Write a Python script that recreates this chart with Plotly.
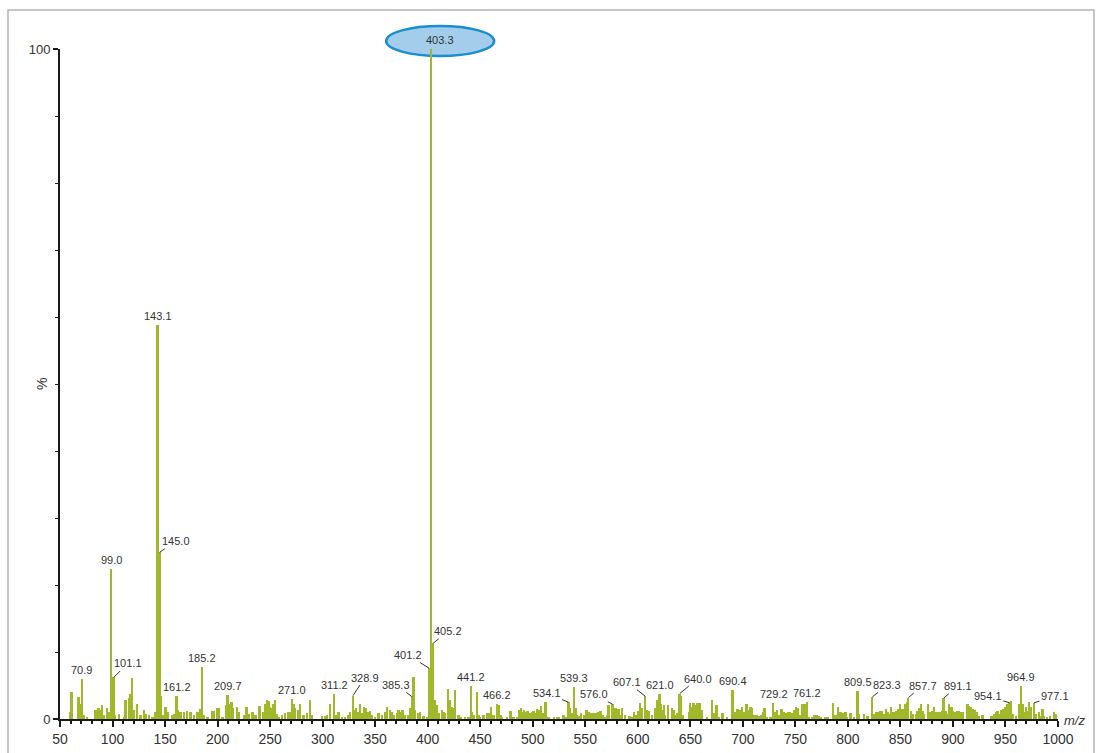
import plotly.graph_objects as go

# ---------------- data (m/z, relative intensity %) ----------------
mz = [
    60.3, 61.0, 68.0, 69.5, 70.9, 73.0, 76.2, 84.1, 86.7, 88.3, 90.5, 92.1, 95.2, 96.8,
    99.0, 101.1, 102.5, 106.3, 111.1, 112.7, 115.9, 117.5, 119.0, 120.6, 123.8, 127.0,
    130.2, 131.7, 135.0, 138.1, 140.6, 143.1, 145.0, 146.4, 148.6, 150.8, 152.4, 157.1,
    158.7, 161.2, 162.8, 165.1, 168.3, 171.4, 174.6, 177.8, 181.0, 183.5, 185.2, 187.3,
    190.5, 195.2, 196.8, 200.0, 201.6, 204.8, 208.0, 209.7, 211.7, 213.3, 215.2, 219.0,
    220.6, 225.4, 227.6, 230.2, 233.3, 236.5, 240.0, 244.0, 245.5, 247.1, 248.7, 250.3,
    251.9, 253.5, 255.1, 256.6, 258.9, 261.4, 264.6, 267.8, 269.3, 271.0, 272.5, 274.1,
    277.3, 278.9, 282.0, 285.2, 288.4, 290.0, 299.5, 302.7, 304.3, 307.4, 311.2, 313.0,
    315.4, 318.6, 321.7, 324.9, 326.5, 328.9, 330.3, 332.2, 333.8, 336.0, 337.6, 339.8,
    341.7, 344.0, 345.5, 347.1, 350.3, 353.5, 356.6, 359.8, 361.4, 364.6, 366.2, 367.8,
    370.9, 372.5, 374.7, 376.3, 378.9, 382.0, 384.0, 385.3, 386.9, 388.4, 391.6, 393.2,
    396.3, 399.5, 401.2, 403.3, 405.2, 406.8, 409.0, 410.6, 413.8, 415.4, 417.0, 419.5,
    421.2, 423.3, 424.6, 426.0, 429.7, 431.3, 436.0, 439.2, 441.2, 442.6, 444.0, 447.1,
    448.7, 450.3, 453.5, 456.7, 458.3, 460.5, 463.0, 466.2, 467.8, 469.4, 471.0, 475.7,
    478.9, 482.0, 485.2, 487.5, 489.1, 491.0, 492.2, 493.8, 495.4, 497.9, 499.5, 501.1,
    502.7, 504.3, 505.9, 508.1, 510.0, 512.2, 515.4, 520.2, 523.3, 524.9, 529.7, 531.3,
    534.1, 535.8, 537.0, 539.3, 540.9, 542.4, 544.6, 546.2, 549.4, 551.3, 553.5, 555.7,
    557.6, 559.5, 561.4, 563.0, 564.6, 566.8, 568.4, 570.9, 572.5, 576.0, 577.6, 579.0,
    580.4, 581.9, 583.4, 585.2, 587.8, 592.5, 594.8, 596.4, 597.9, 600.2, 602.1, 604.3,
    607.1, 608.6, 610.6, 613.8, 617.0, 618.6, 621.0, 622.4, 623.8, 625.0, 626.4, 629.0,
    632.8, 634.4, 636.0, 637.5, 640.0, 641.4, 642.8, 648.7, 650.2, 651.8, 653.4, 655.0,
    656.6, 658.8, 660.7, 666.1, 670.9, 673.1, 675.0, 677.2, 681.0, 685.2, 690.4, 691.9,
    693.3, 695.3, 697.2, 699.5, 701.7, 703.6, 705.8, 707.4, 709.0, 711.2, 713.1, 715.3,
    717.5, 719.5, 721.0, 723.3, 726.4, 729.2, 730.8, 732.8, 735.0, 736.9, 739.1, 740.7,
    743.0, 744.5, 746.4, 748.7, 750.9, 752.5, 754.4, 757.2, 759.6, 761.2, 763.0, 766.1,
    767.7, 770.3, 772.5, 774.7, 778.8, 781.0, 785.8, 788.3, 790.9, 793.1, 795.3, 797.9,
    799.5, 802.6, 805.8, 809.5, 810.9, 815.6, 818.8, 823.3, 825.2, 826.8, 829.0, 830.6,
    832.2, 834.7, 836.3, 837.9, 839.5, 841.0, 842.6, 844.9, 846.4, 848.3, 849.9, 851.5,
    853.7, 855.0, 856.3, 857.7, 860.1, 861.7, 864.9, 866.4, 868.0, 869.6, 871.2, 872.8,
    876.6, 878.2, 880.7, 882.3, 883.9, 885.5, 888.0, 889.6, 891.1, 893.4, 895.0, 896.6,
    898.8, 900.4, 902.3, 903.9, 905.5, 907.7, 909.3, 914.1, 915.6, 917.2, 918.8, 921.0,
    922.6, 925.2, 928.3, 936.3, 937.9, 939.5, 941.1, 942.6, 944.2, 945.8, 948.0, 949.6,
    952.2, 954.1, 955.7, 957.5, 960.1, 963.3, 964.9, 966.4, 968.0, 969.6, 971.2, 972.8,
    974.4, 977.1, 979.1, 982.3, 983.9, 985.5, 987.1, 989.6, 992.8, 996.6, 998.2,
]
intensity = [
    1.1, 4.1, 3.3, 2.3, 5.9, 0.6, 0.3, 1.3, 1.7, 1.4, 2.1, 0.6, 1.6, 1.1,
    22.4, 6.2, 0.6, 0.8, 0.35, 2.8, 3.1, 3.8, 6.1, 1.3, 2.3, 0.6,
    1.3, 0.8, 0.6, 0.35, 1.1, 58.8, 24.9, 3.4, 0.6, 1.8, 1.1, 0.6,
    0.8, 3.4, 1.3, 1.1, 1.1, 1.2, 1.0, 0.6, 1.1, 1.5, 7.8, 0.6,
    0.35, 1.2, 1.2, 1.7, 1.6, 0.35, 2.1, 3.6, 2.3, 2.6, 1.6, 1.8,
    1.1, 0.6, 1.8, 0.8, 1.0, 0.6, 2.0, 1.1, 2.3, 2.8, 2.7, 1.8,
    1.6, 2.3, 2.8, 0.8, 0.35, 0.6, 0.85, 1.1, 1.1, 3.0, 2.3, 1.6,
    1.35, 2.2, 0.6, 0.85, 2.8, 0.6, 0.5, 0.5, 0.6, 2.2, 3.8, 0.6,
    1.1, 0.35, 0.35, 0.6, 1.1, 3.5, 1.35, 1.6, 1.1, 2.2, 0.85, 1.85,
    1.6, 1.1, 1.2, 0.6, 0.35, 0.85, 0.6, 1.1, 1.85, 1.35, 1.1, 0.6,
    0.85, 1.35, 1.1, 1.4, 0.6, 0.6, 1.6, 3.3, 6.3, 1.35, 0.85, 1.1,
    0.5, 0.35, 7.6, 100.0, 11.3, 2.8, 2.1, 0.85, 1.35, 1.1, 0.85, 4.5,
    2.8, 1.85, 1.6, 4.4, 0.6, 0.35, 0.35, 0.35, 5.0, 1.1, 0.6, 4.1,
    0.6, 0.35, 0.6, 0.85, 0.85, 1.85, 0.6, 2.2, 2.1, 0.6, 0.35, 0.35,
    1.2, 0.35, 0.35, 1.35, 1.6, 1.1, 1.35, 1.1, 1.2, 0.85, 1.1, 1.25,
    0.85, 1.5, 1.35, 1.9, 0.85, 2.6, 0.35, 0.35, 0.35, 0.35, 0.6, 0.35,
    2.5, 1.7, 0.85, 4.8, 1.6, 0.6, 0.5, 0.85, 0.6, 1.35, 1.1, 0.85,
    0.85, 0.95, 0.95, 1.1, 1.2, 0.6, 0.35, 0.6, 2.1, 2.2, 1.35, 1.6,
    0.85, 1.45, 0.6, 1.6, 0.6, 0.5, 0.35, 1.0, 0.6, 1.25, 2.35, 1.6,
    3.4, 1.35, 1.2, 0.6, 1.6, 2.85, 3.7, 2.3, 1.35, 2.1, 0.6, 2.1,
    1.6, 1.35, 0.6, 0.85, 3.8, 3.4, 0.6, 1.1, 2.35, 1.85, 2.4, 2.1,
    2.35, 2.35, 1.35, 0.35, 2.85, 0.85, 2.1, 0.35, 0.85, 0.35, 4.4, 0.85,
    1.1, 1.45, 1.35, 1.85, 1.1, 2.2, 1.35, 1.85, 1.6, 0.6, 0.6, 0.5,
    0.6, 1.1, 1.6, 0.35, 0.35, 2.4, 1.1, 1.35, 0.6, 1.5, 1.1, 0.85,
    1.1, 1.0, 0.85, 1.35, 1.85, 1.6, 0.6, 2.3, 2.3, 2.5, 0.35, 0.35,
    0.6, 0.6, 0.5, 0.35, 0.35, 0.35, 2.35, 0.6, 1.85, 1.1, 0.85, 1.1,
    0.35, 0.85, 0.35, 4.2, 0.75, 0.75, 0.5, 3.3, 0.75, 1.0, 1.0, 1.25,
    1.15, 0.75, 1.5, 1.1, 0.75, 1.75, 1.0, 1.0, 1.25, 1.5, 2.2, 1.5,
    1.5, 2.2, 2.5, 3.2, 1.25, 0.75, 0.75, 1.25, 1.6, 2.2, 1.25, 0.75,
    2.2, 1.0, 1.25, 1.75, 1.0, 1.0, 1.0, 1.25, 3.1, 1.25, 0.75, 2.2,
    1.75, 1.25, 1.0, 1.25, 1.15, 1.1, 1.0, 2.2, 2.0, 1.75, 1.5, 1.35,
    1.0, 0.5, 0.65, 0.5, 0.5, 0.75, 1.0, 1.25, 0.75, 1.35, 1.5, 1.75,
    2.2, 2.4, 2.7, 0.75, 0.5, 2.2, 5.0, 2.2, 1.0, 1.75, 1.25, 2.5,
    1.75, 2.4, 0.75, 1.0, 0.5, 1.5, 0.5, 0.25, 0.5, 1.1, 0.75,
]

# labelled peaks
label_mz = [70.9, 99.0, 101.1, 143.1, 145.0, 161.2, 185.2, 209.7, 271.0, 311.2,
            328.9, 385.3, 401.2, 403.3, 405.2, 441.2, 466.2, 534.1, 539.3, 576.0,
            607.1, 621.0, 640.0, 690.4, 729.2, 761.2, 809.5, 823.3, 857.7, 891.1,
            954.1, 964.9, 977.1]
base_peak = 403.3

x_ticks = list(range(50, 1001, 50))
x_tick_text = [str(v) for v in x_ticks]
y_ticks = [0, 100]
y_tick_text = ["0", "100"]

# ---------------- styling / layout ----------------
W, H = 1100, 753
ML, MR, MT, MB = 60, 42, 49, 34
X_RANGE = [50, 1000]
Y_RANGE = [0, 100]
PW, PH = W - ML - MR, H - MT - MB

BAR_COLOR = "#a0b829"
TEXT_COLOR = "#333333"
AXIS_COLOR = "#1a1a1a"
FONT = "Arial, 'Liberation Sans', sans-serif"
BASE_LABEL_SHIFT = 9  # px: base-peak badge sits slightly right of the peak

# leader-line offsets (pixels) of label text relative to the peak top
leader_offsets = {
    101.1: (14, -14), 145.0: (16, -11), 328.9: (12, -18), 385.3: (-16, -12),
    401.2: (-21, -13), 405.2: (15, -12), 534.1: (-22, -9), 576.0: (-19, -10),
    607.1: (-18, -14), 640.0: (18, -15), 823.3: (15, -12), 857.7: (14, -12),
    891.1: (14, -12), 954.1: (-22, -7), 977.1: (21, -7),
}

fig = go.Figure()
fig.add_trace(go.Bar(
    x=mz, y=intensity, width=1.8,
    marker=dict(color=BAR_COLOR, line=dict(width=0)),
    hoverinfo="skip", showlegend=False,
))

annotations = []
lookup = dict(zip(mz, intensity))
for m in label_mz:
    h = lookup[m]
    txt = f"{m:.1f}"
    if m in leader_offsets:
        ax, ay = leader_offsets[m]
        annotations.append(dict(
            x=m, y=h, xref="x", yref="y", text=txt, showarrow=True,
            ax=ax, ay=ay, arrowhead=0, arrowwidth=1, arrowcolor=TEXT_COLOR,
            standoff=0, startstandoff=0,
            font=dict(family=FONT, size=11, color=TEXT_COLOR),
        ))
    else:
        annotations.append(dict(
            x=m, y=h, xref="x", yref="y", text=txt, showarrow=False,
            yanchor="bottom", yshift=1,
            xshift=BASE_LABEL_SHIFT if m == base_peak else 0,
            font=dict(family=FONT, size=11, color=TEXT_COLOR),
        ))

# axis titles
annotations.append(dict(
    x=0, y=0.5, xref="paper", yref="paper", text="%", showarrow=False,
    textangle=-90, xanchor="center", yanchor="middle", xshift=-18,
    font=dict(family=FONT, size=14, color=TEXT_COLOR),
))
annotations.append(dict(
    x=1, y=0, xref="paper", yref="paper", text="<i>m/z</i>", showarrow=False,
    xanchor="left", yanchor="middle", xshift=4, yshift=-1,
    font=dict(family=FONT, size=13, color=TEXT_COLOR),
))

# base-peak ellipse (paper coordinates derived from the data scale)
bp_x = (base_peak - X_RANGE[0]) / (X_RANGE[1] - X_RANGE[0]) + BASE_LABEL_SHIFT / PW
bp_y = (100 - Y_RANGE[0]) / (Y_RANGE[1] - Y_RANGE[0])
half_w, top_px, bot_px = 54 / PW, 23 / PH, 7 / PH
shapes = [
    dict(type="circle", xref="paper", yref="paper",
         x0=bp_x - half_w, x1=bp_x + half_w, y0=bp_y - bot_px, y1=bp_y + top_px,
         fillcolor="#a3cdea", line=dict(color="#1a8ed0", width=2.5), layer="below"),
    # outer frame
    dict(type="rect", xref="paper", yref="paper",
         x0=(8 - ML) / PW, x1=(1094 - ML) / PW,
         y0=-(H + 5 - MT - PH) / PH, y1=(MT - 10 + PH) / PH,
         line=dict(color="#b4b4b4", width=1.5), fillcolor="rgba(0,0,0,0)", layer="below"),
]

fig.update_layout(
    width=W, height=H,
    margin=dict(l=ML, r=MR, t=MT, b=MB, pad=0, autoexpand=False),
    paper_bgcolor="white", plot_bgcolor="rgba(0,0,0,0)",
    font=dict(family=FONT, color=TEXT_COLOR),
    bargap=0, hovermode=False,
    annotations=annotations, shapes=shapes,
    xaxis=dict(
        range=X_RANGE, tickmode="array", tickvals=x_ticks, ticktext=x_tick_text,
        ticks="outside", ticklen=6, tickwidth=2, tickcolor=AXIS_COLOR,
        showline=True, linewidth=2, linecolor=AXIS_COLOR,
        showgrid=False, zeroline=False, automargin=False,
        tickfont=dict(family=FONT, size=14, color=TEXT_COLOR),
        minor=dict(tick0=50, dtick=10, ticks="outside", ticklen=3, tickwidth=1.5,
                   tickcolor=AXIS_COLOR, showgrid=False),
    ),
    yaxis=dict(
        range=Y_RANGE, tickmode="array", tickvals=y_ticks, ticktext=y_tick_text,
        ticks="outside", ticklen=5, tickwidth=1.5, tickcolor=AXIS_COLOR,
        showline=True, linewidth=2, linecolor=AXIS_COLOR,
        showgrid=False, zeroline=False, automargin=False,
        tickfont=dict(family=FONT, size=13, color=TEXT_COLOR),
        minor=dict(tick0=0, dtick=10, ticks="outside", ticklen=3, tickwidth=1,
                   tickcolor=AXIS_COLOR, showgrid=False),
    ),
)

fig.write_html("out.html", config={"displayModeBar": False},
               post_script="document.body.style.margin='0';document.body.style.overflow='hidden';")
